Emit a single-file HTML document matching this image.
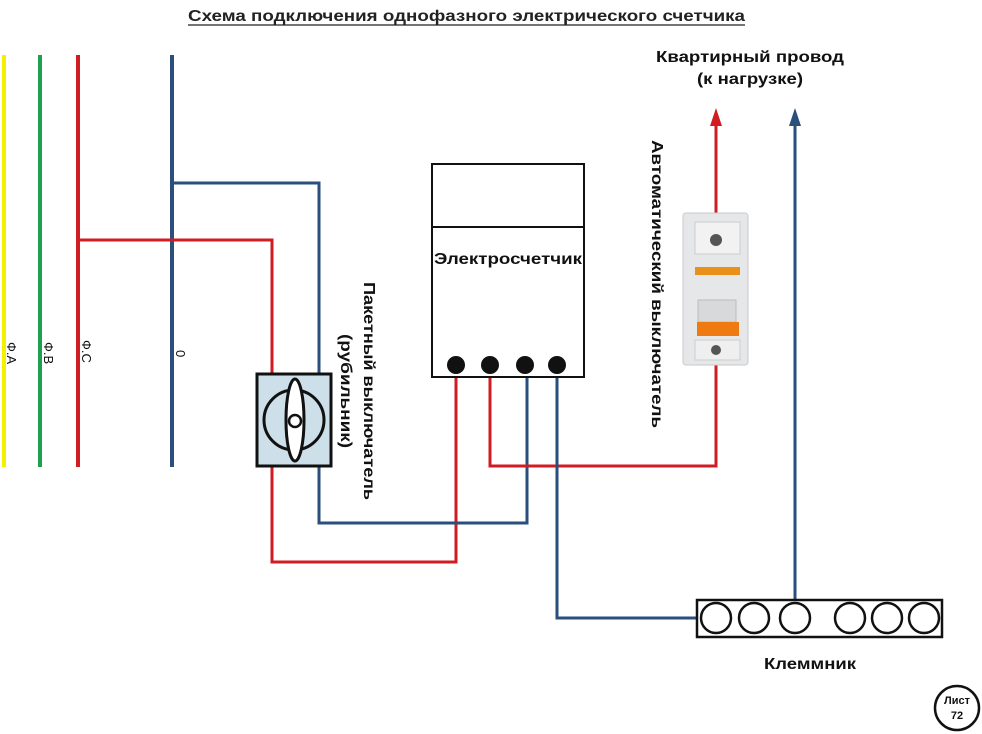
<!DOCTYPE html>
<html><head><meta charset="utf-8"><style>
html,body{margin:0;padding:0;background:#fff;}
svg{display:block;font-family:"Liberation Sans",sans-serif;}
</style></head><body>
<svg width="982" height="734" viewBox="0 0 982 734" xmlns="http://www.w3.org/2000/svg">
<text x="188" y="21" font-size="16" font-weight="bold" fill="#222" textLength="557" lengthAdjust="spacingAndGlyphs">Схема подключения однофазного электрического счетчика</text>
<line x1="188" y1="25" x2="745" y2="25" stroke="#222" stroke-width="1.2"/>
<text x="656" y="62" font-size="16" font-weight="bold" fill="#111" textLength="188" lengthAdjust="spacingAndGlyphs">Квартирный провод</text>
<text x="697" y="84" font-size="16" font-weight="bold" fill="#111" textLength="106" lengthAdjust="spacingAndGlyphs">(к нагрузке)</text>

<line x1="4" y1="55" x2="4" y2="467" stroke="#f5f000" stroke-width="4"/>
<line x1="40" y1="55" x2="40" y2="467" stroke="#1ea050" stroke-width="4"/>
<line x1="78" y1="55" x2="78" y2="467" stroke="#d01d24" stroke-width="4"/>
<line x1="172" y1="55" x2="172" y2="467" stroke="#2a4f7c" stroke-width="4"/>
<g font-size="13" fill="#111">
<text transform="translate(7,342) rotate(90)">Ф.А</text>
<text transform="translate(44,342) rotate(90)">Ф.В</text>
<text transform="translate(82,340) rotate(90)">Ф.С</text>
<text transform="translate(176,350) rotate(90)">0</text>
</g>

<g fill="none" stroke-width="3">
<polyline points="172,183 319,183 319,373" stroke="#2a4f7c"/>
<polyline points="78,240 272,240 272,373" stroke="#d01d24"/>
<polyline points="272,467 272,562 456,562 456,365" stroke="#d01d24"/>
<polyline points="319,467 319,523 527,523 527,365" stroke="#2a4f7c"/>
<polyline points="490,365 490,466 716,466 716,365" stroke="#d01d24"/>
<polyline points="557,365 557,618 697,618" stroke="#2a4f7c"/>
<line x1="716" y1="213" x2="716" y2="120" stroke="#d01d24"/>
<line x1="795" y1="600" x2="795" y2="120" stroke="#2a4f7c"/>
</g>
<polygon points="716,108 710,126 722,126" fill="#d01d24"/>
<polygon points="795,108 789,126 801,126" fill="#2a4f7c"/>

<rect x="257" y="374" width="74" height="92" fill="#cddfe8" stroke="#111" stroke-width="3"/>
<ellipse cx="294" cy="420" rx="30" ry="30" fill="none" stroke="#111" stroke-width="3"/>
<ellipse cx="295" cy="420" rx="9" ry="41" fill="#fff" stroke="#111" stroke-width="3"/>
<circle cx="295" cy="421" r="6" fill="#fff" stroke="#111" stroke-width="2.5"/>
<text transform="translate(364,282) rotate(90)" font-size="16" font-weight="bold" fill="#111" textLength="218" lengthAdjust="spacingAndGlyphs">Пакетный выключатель</text>
<text transform="translate(341,334) rotate(90)" font-size="16" font-weight="bold" fill="#111" textLength="114" lengthAdjust="spacingAndGlyphs">(рубильник)</text>

<rect x="432" y="164" width="152" height="213" fill="#fff" stroke="#111" stroke-width="2"/>
<line x1="432" y1="227" x2="584" y2="227" stroke="#111" stroke-width="2"/>
<text x="434" y="264" font-size="16" font-weight="bold" fill="#111" textLength="148" lengthAdjust="spacingAndGlyphs">Электросчетчик</text>
<g fill="#111"><circle cx="456" cy="365" r="9"/><circle cx="490" cy="365" r="9"/><circle cx="525" cy="365" r="9"/><circle cx="557" cy="365" r="9"/></g>

<text transform="translate(652,140) rotate(90)" font-size="16" font-weight="bold" fill="#111" textLength="288" lengthAdjust="spacingAndGlyphs">Автоматический выключатель</text>
<rect x="683" y="213" width="65" height="152" rx="3" fill="#e6e7e9" stroke="#c9cacc"/>
<rect x="695" y="222" width="45" height="32" fill="#f2f2f2" stroke="#ccc"/>
<rect x="695" y="267" width="45" height="8" fill="#e8901a"/>
<rect x="698" y="300" width="38" height="22" fill="#d8d9db" stroke="#bbb"/>
<rect x="697" y="322" width="42" height="14" fill="#f07a12"/>
<rect x="695" y="340" width="45" height="20" fill="#efefef" stroke="#ccc"/>
<circle cx="716" cy="240" r="6" fill="#555"/>
<circle cx="716" cy="350" r="5" fill="#555"/>

<rect x="697" y="600" width="245" height="37" fill="#fff" stroke="#111" stroke-width="2.5"/>
<g fill="#fff" stroke="#111" stroke-width="2.5">
<circle cx="716" cy="618" r="15"/><circle cx="754" cy="618" r="15"/><circle cx="795" cy="618" r="15"/>
<circle cx="850" cy="618" r="15"/><circle cx="887" cy="618" r="15"/><circle cx="924" cy="618" r="15"/>
</g>
<text x="764" y="669" font-size="16" font-weight="bold" fill="#111" textLength="92" lengthAdjust="spacingAndGlyphs">Клеммник</text>

<circle cx="957" cy="708" r="22" fill="#fff" stroke="#111" stroke-width="2.5"/>
<text x="957" y="704" text-anchor="middle" font-size="11" font-weight="bold" fill="#111">Лист</text>
<text x="957" y="719" text-anchor="middle" font-size="11" font-weight="bold" fill="#111">72</text>
</svg>
</body></html>
